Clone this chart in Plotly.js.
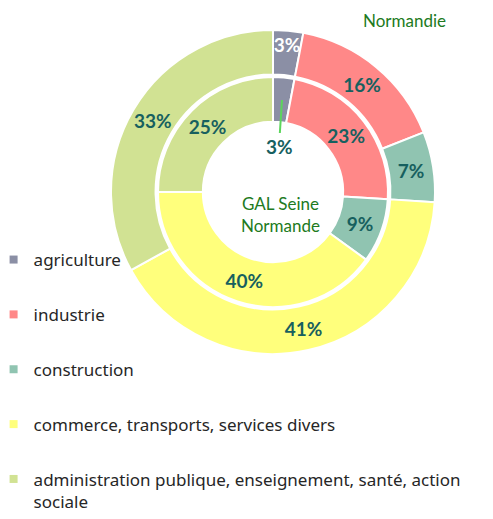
<!DOCTYPE html>
<html>
<head>
<meta charset="utf-8">
<script src="https://cdn.plot.ly/plotly-3.0.1.min.js"></script>
<style>html,body{margin:0;padding:0;background:#fff;}#chart{width:493px;height:519px;}</style>
</head>
<body>
<div id="chart"></div>
<script>
// Data
const categories = ['agriculture', 'industrie', 'construction', 'commerce, transports, services divers', 'administration publique, enseignement, santé, action<br>sociale'];
const normandieValues = [3, 16, 7, 41, 33];   // outer ring
const galValues = [3, 23, 9, 40, 25];         // inner ring
const outerName = 'Normandie';
const innerName = 'GAL Seine<br>Normande';

// Styles
const colors = ['#8b8fa5', '#ff8888', '#90c4b1', '#ffff7c', '#d1e293'];
const labelColor = '#17605f';
const fontFam = 'Lato, "Open Sans", sans-serif';
const legendFam = '"Noto Sans", "Open Sans", sans-serif';

const outer = {
  type: 'pie', labels: categories, values: normandieValues, sort: false,
  direction: 'clockwise', rotation: 0, hole: 0.725,
  domain: {x: [111/493, 435/493], y: [165/519, 489/519]},
  texttemplate: '%{value}%', textposition: 'inside', insidetextorientation: 'horizontal',
  textfont: {family: fontFam, size: 19, weight: 'bold', color: ['#ffffff', labelColor, labelColor, labelColor, labelColor]},
  marker: {colors: colors, line: {color: '#ffffff', width: 2}},
  showlegend: false, hoverinfo: 'skip'
};
const inner = {
  type: 'pie', labels: categories, values: galValues, sort: false,
  direction: 'clockwise', rotation: 0, hole: 0.61,
  domain: {x: [158/493, 388/493], y: [212/519, 442/519]},
  texttemplate: '%{value}%', textposition: ['none', 'inside', 'inside', 'inside', 'inside'], insidetextorientation: 'horizontal',
  textfont: {family: fontFam, size: 19, weight: 'bold', color: labelColor},
  marker: {colors: colors, line: {color: '#ffffff', width: 2}},
  showlegend: false, hoverinfo: 'skip'
};
const legendTraces = categories.map((c, i) => ({
  type: 'scatter', mode: 'markers', x: [null], y: [null], name: c,
  legendgroup: 'g' + i, marker: {symbol: 'square', size: 8, color: colors[i]},
  hoverinfo: 'skip'
}));

const layout = {
  width: 493, height: 519,
  margin: {l: 0, r: 0, t: 0, b: 0, autoexpand: false},
  paper_bgcolor: '#ffffff', plot_bgcolor: '#ffffff',
  xaxis: {visible: false}, yaxis: {visible: false},
  uniformtext: {mode: 'show', minsize: 19},
  legend: {
    x: -0.013, y: 0, xanchor: 'left', yanchor: 'bottom',
    traceorder: 'grouped', tracegroupgap: 29.75, valign: 'top',
    bgcolor: 'rgba(0,0,0,0)',
    font: {family: legendFam, size: 17, color: '#262626'}
  },
  annotations: [
    {text: outerName, xref: 'paper', yref: 'paper', x: 404/493, y: (519-20)/519, xanchor: 'center', yanchor: 'middle', showarrow: false,
     font: {family: fontFam, size: 17, color: '#217a21'}},
    {text: innerName, xref: 'paper', yref: 'paper', x: 280/493, y: (519-214)/519, xanchor: 'center', yanchor: 'middle', showarrow: false,
     font: {family: fontFam, size: 17, color: '#217a21'}},
    {text: '<b>' + galValues[0] + '%</b>', xref: 'paper', yref: 'paper', x: 282/493, y: (519-100)/519,
     showarrow: true, arrowhead: 0, arrowwidth: 2, arrowcolor: '#5cd65c', ax: -3, ay: 46, standoff: 0,
     font: {family: fontFam, size: 19, color: labelColor}}
  ]
};

Plotly.newPlot('chart', [outer, inner].concat(legendTraces), layout, {displayModeBar: false, staticPlot: true});
</script>
</body>
</html>
